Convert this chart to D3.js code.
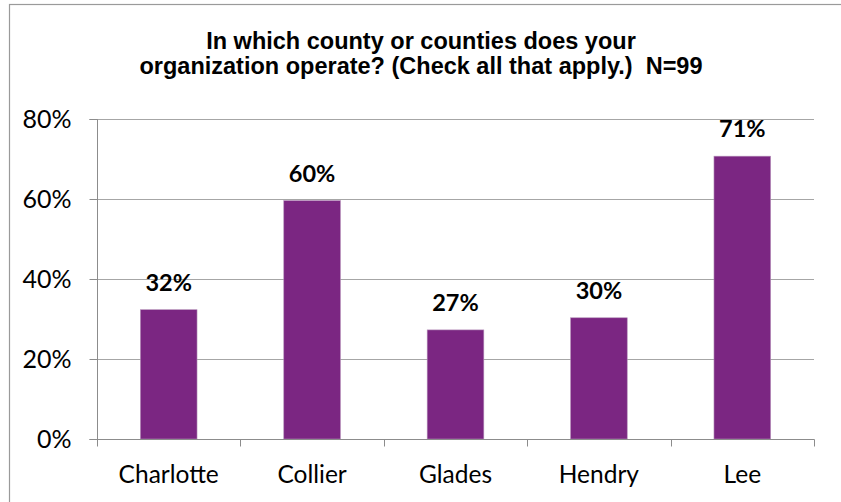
<!DOCTYPE html>
<html>
<head>
<meta charset="utf-8">
<script src="https://cdn.jsdelivr.net/npm/d3@7"></script>
<style>
  html, body { margin: 0; padding: 0; background: #fff; }
  svg { display: block; }
</style>
</head>
<body>
<svg id="chart" width="841" height="502"></svg>
<script>
// Survey: counties served by responding organizations (N=99)
const counties = ["Charlotte", "Collier", "Glades", "Hendry", "Lee"];
const shares = [32 / 99, 59 / 99, 27 / 99, 30 / 99, 70 / 99];
const yTicks = [0, 0.2, 0.4, 0.6, 0.8];
const titleLines = [
  "In which county or counties does your",
  "organization operate? (Check all that apply.)  N=99"
];

const svg = d3.select("#chart");
const W = 841, H = 502;
const plot = { left: 97, right: 814, top: 119, bottom: 439 };
const barFill = "#7b2682";
const gridColor = "#a6a6a6";
const axisColor = "#8c8c8c";
const bodyFont = "Lato, 'Open Sans', sans-serif";

// chart frame (the right and bottom edges fall outside the page)
svg.append("rect")
  .attr("x", 9.5).attr("y", 4.5)
  .attr("width", W + 20).attr("height", H + 20)
  .attr("fill", "none")
  .attr("stroke", "#9a9a9a")
  .attr("stroke-width", 1.2);

// title
svg.append("text")
  .attr("text-anchor", "middle")
  .attr("font-family", "'Liberation Sans', Arial, sans-serif")
  .attr("font-weight", "bold")
  .attr("font-size", 23.5)
  .attr("fill", "#000")
  .style("white-space", "pre")
  .selectAll("tspan")
  .data(titleLines)
  .join("tspan")
  .attr("x", 421)
  .attr("y", (d, i) => 49 + i * 25)
  .text(d => d);

const x = d3.scaleBand()
  .domain(counties)
  .range([plot.left, plot.right])
  .paddingInner(0.605)
  .paddingOuter(0.3025);

const y = d3.scaleLinear()
  .domain([0, 0.8])
  .range([plot.bottom, plot.top]);

// horizontal gridlines
svg.append("g")
  .selectAll("line")
  .data(yTicks.filter(t => t > 0))
  .join("line")
  .attr("x1", plot.left).attr("x2", plot.right)
  .attr("y1", d => Math.round(y(d)) + 0.5)
  .attr("y2", d => Math.round(y(d)) + 0.5)
  .attr("stroke", gridColor)
  .attr("stroke-width", 1);

// bars
svg.append("g")
  .selectAll("rect")
  .data(counties)
  .join("rect")
  .attr("x", d => x(d))
  .attr("width", x.bandwidth())
  .attr("y", (d, i) => y(shares[i]))
  .attr("height", (d, i) => y(0) - y(shares[i]))
  .attr("fill", barFill)
  .attr("stroke", "#b48fb8")
  .attr("stroke-width", 0.6);

// value labels
const pct = d3.format(".0%");
svg.append("g")
  .selectAll("text")
  .data(counties)
  .join("text")
  .attr("x", d => x(d) + x.bandwidth() / 2)
  .attr("y", (d, i) => y(shares[i]) - 19)
  .attr("text-anchor", "middle")
  .attr("font-family", bodyFont)
  .attr("font-weight", "bold")
  .attr("font-size", 23.5)
  .attr("fill", "#000")
  .text((d, i) => pct(shares[i]));

// y axis
const yAxis = d3.axisLeft(y)
  .tickValues(yTicks)
  .tickFormat(d3.format(".0%"))
  .tickSize(8)
  .tickPadding(18);

const gy = svg.append("g")
  .attr("transform", `translate(${plot.left + 0.5},0)`)
  .call(yAxis);
gy.select(".domain").attr("stroke", axisColor).attr("d", `M-8,${plot.top + 0.5}H0V${plot.bottom + 0.5}H-8`);
gy.selectAll(".tick line").attr("stroke", axisColor);
gy.selectAll(".tick text")
  .attr("font-family", bodyFont)
  .attr("font-size", 25)
  .attr("fill", "#000");

// x axis: ticks on category boundaries, labels centred under bars
const gx = svg.append("g")
  .attr("transform", `translate(0,${plot.bottom + 0.5})`);
gx.append("line")
  .attr("x1", plot.left).attr("x2", plot.right + 0.5)
  .attr("stroke", axisColor);
const step = x.step();
gx.selectAll("line.tick")
  .data(d3.range(counties.length + 1))
  .join("line")
  .attr("class", "tick")
  .attr("x1", i => Math.round(plot.left + i * step) + 0.5)
  .attr("x2", i => Math.round(plot.left + i * step) + 0.5)
  .attr("y1", 0).attr("y2", 7)
  .attr("stroke", axisColor);
gx.selectAll("text")
  .data(counties)
  .join("text")
  .attr("x", d => x(d) + x.bandwidth() / 2)
  .attr("y", 43)
  .attr("text-anchor", "middle")
  .attr("font-family", bodyFont)
  .attr("font-size", 24.5)
  .attr("fill", "#000")
  .text(d => d);
</script>
</body>
</html>
